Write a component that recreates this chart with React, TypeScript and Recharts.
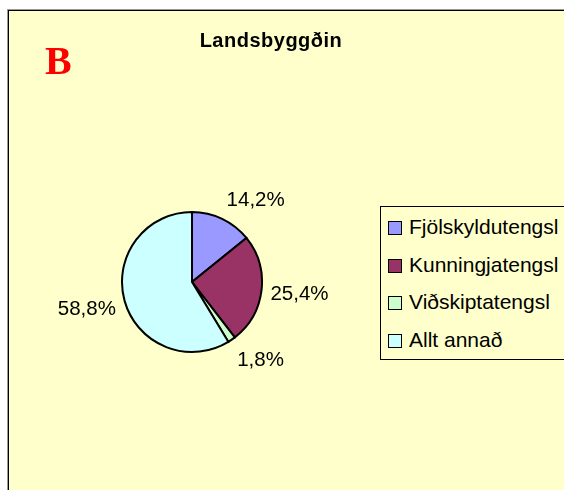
import { PieChart, Pie, Cell, Legend } from "recharts";

const categories = ["Fjölskyldutengsl", "Kunningjatengsl", "Viðskiptatengsl", "Allt annað"];
const shares = [14.2, 25.4, 1.8, 58.8];
const colors = ["#9999FF", "#993366", "#CCFFCC", "#CCFFFF"];

const data = categories.map((name, i) => ({ name, value: shares[i] }));
const fmt = (v: number) => `${v.toFixed(1).replace(".", ",")}%`;
const RAD = Math.PI / 180;
const font = '"Liberation Sans", Arial, sans-serif';

function renderLabel({ cx, cy, midAngle, outerRadius, value }: any) {
  const c = Math.cos(midAngle * RAD);
  const s = Math.sin(midAngle * RAD);
  const r = outerRadius + 8;
  const px = cx + r * c;
  const py = cy - r * s;
  const right = c >= 0;
  return (
    <text
      x={px + (right ? 1 : -1)}
      y={py - s * 15}
      textAnchor={right ? "start" : "end"}
      dominantBaseline="central"
      fontFamily={font}
      fontSize={20.5}
      fill="#000"
    >
      {fmt(value)}
    </text>
  );
}

// legend order follows the data, not recharts' payload sorting
function LegendBox() {
  return (
    <div style={{ border: "1px solid #000", background: "#FFFFCC", height: 151, width: 200, paddingTop: 1, boxSizing: "content-box" }}>
      {categories.map((c, i) => (
        <div key={c} style={{ display: "flex", alignItems: "center", height: 37.5 }}>
          <span style={{ display: "inline-block", width: 12, height: 12, marginLeft: 7, marginRight: 7, marginTop: 3, border: "1px solid #000", background: colors[i] }} />
          <span style={{ fontFamily: font, fontSize: 21, color: "#000", lineHeight: "21px" }}>{c}</span>
        </div>
      ))}
    </div>
  );
}

export default function App() {
  return (
    <div
      style={{
        position: "fixed",
        left: 8,
        top: 10,
        width: 556,
        height: 480,
        background: "#FFFFCC",
        borderLeft: "1px solid #000",
        borderTop: "1px solid #000",
        boxShadow: "-1px -1px 0 #999",
        overflow: "hidden",
      }}
    >
      <div style={{ position: "absolute", left: 36, top: 29.5, fontFamily: '"Liberation Serif", "Times New Roman", serif', fontWeight: "bold", fontSize: 40, lineHeight: "40px", color: "#FF0000" }}>
        B
      </div>
      <div style={{ position: "absolute", left: 162, top: 19, width: 200, textAlign: "center", fontFamily: font, fontWeight: "bold", fontSize: 20, lineHeight: "20px", letterSpacing: 0.5, color: "#000" }}>
        Landsbyggðin
      </div>
      <PieChart width={555} height={479} margin={{ top: 0, right: 0, bottom: 0, left: 0 }}>
        <Pie
          data={data}
          dataKey="value"
          nameKey="name"
          cx={183}
          cy={271}
          outerRadius={70}
          startAngle={90}
          endAngle={-270}
          stroke="#000"
          strokeWidth={2}
          label={renderLabel}
          labelLine={false}
          isAnimationActive={false}
        >
          {data.map((d, i) => (
            <Cell key={d.name} fill={colors[i]} />
          ))}
        </Pie>
        <Legend content={<LegendBox />} wrapperStyle={{ left: 371, top: 195, width: 202 }} />
      </PieChart>
    </div>
  );
}
